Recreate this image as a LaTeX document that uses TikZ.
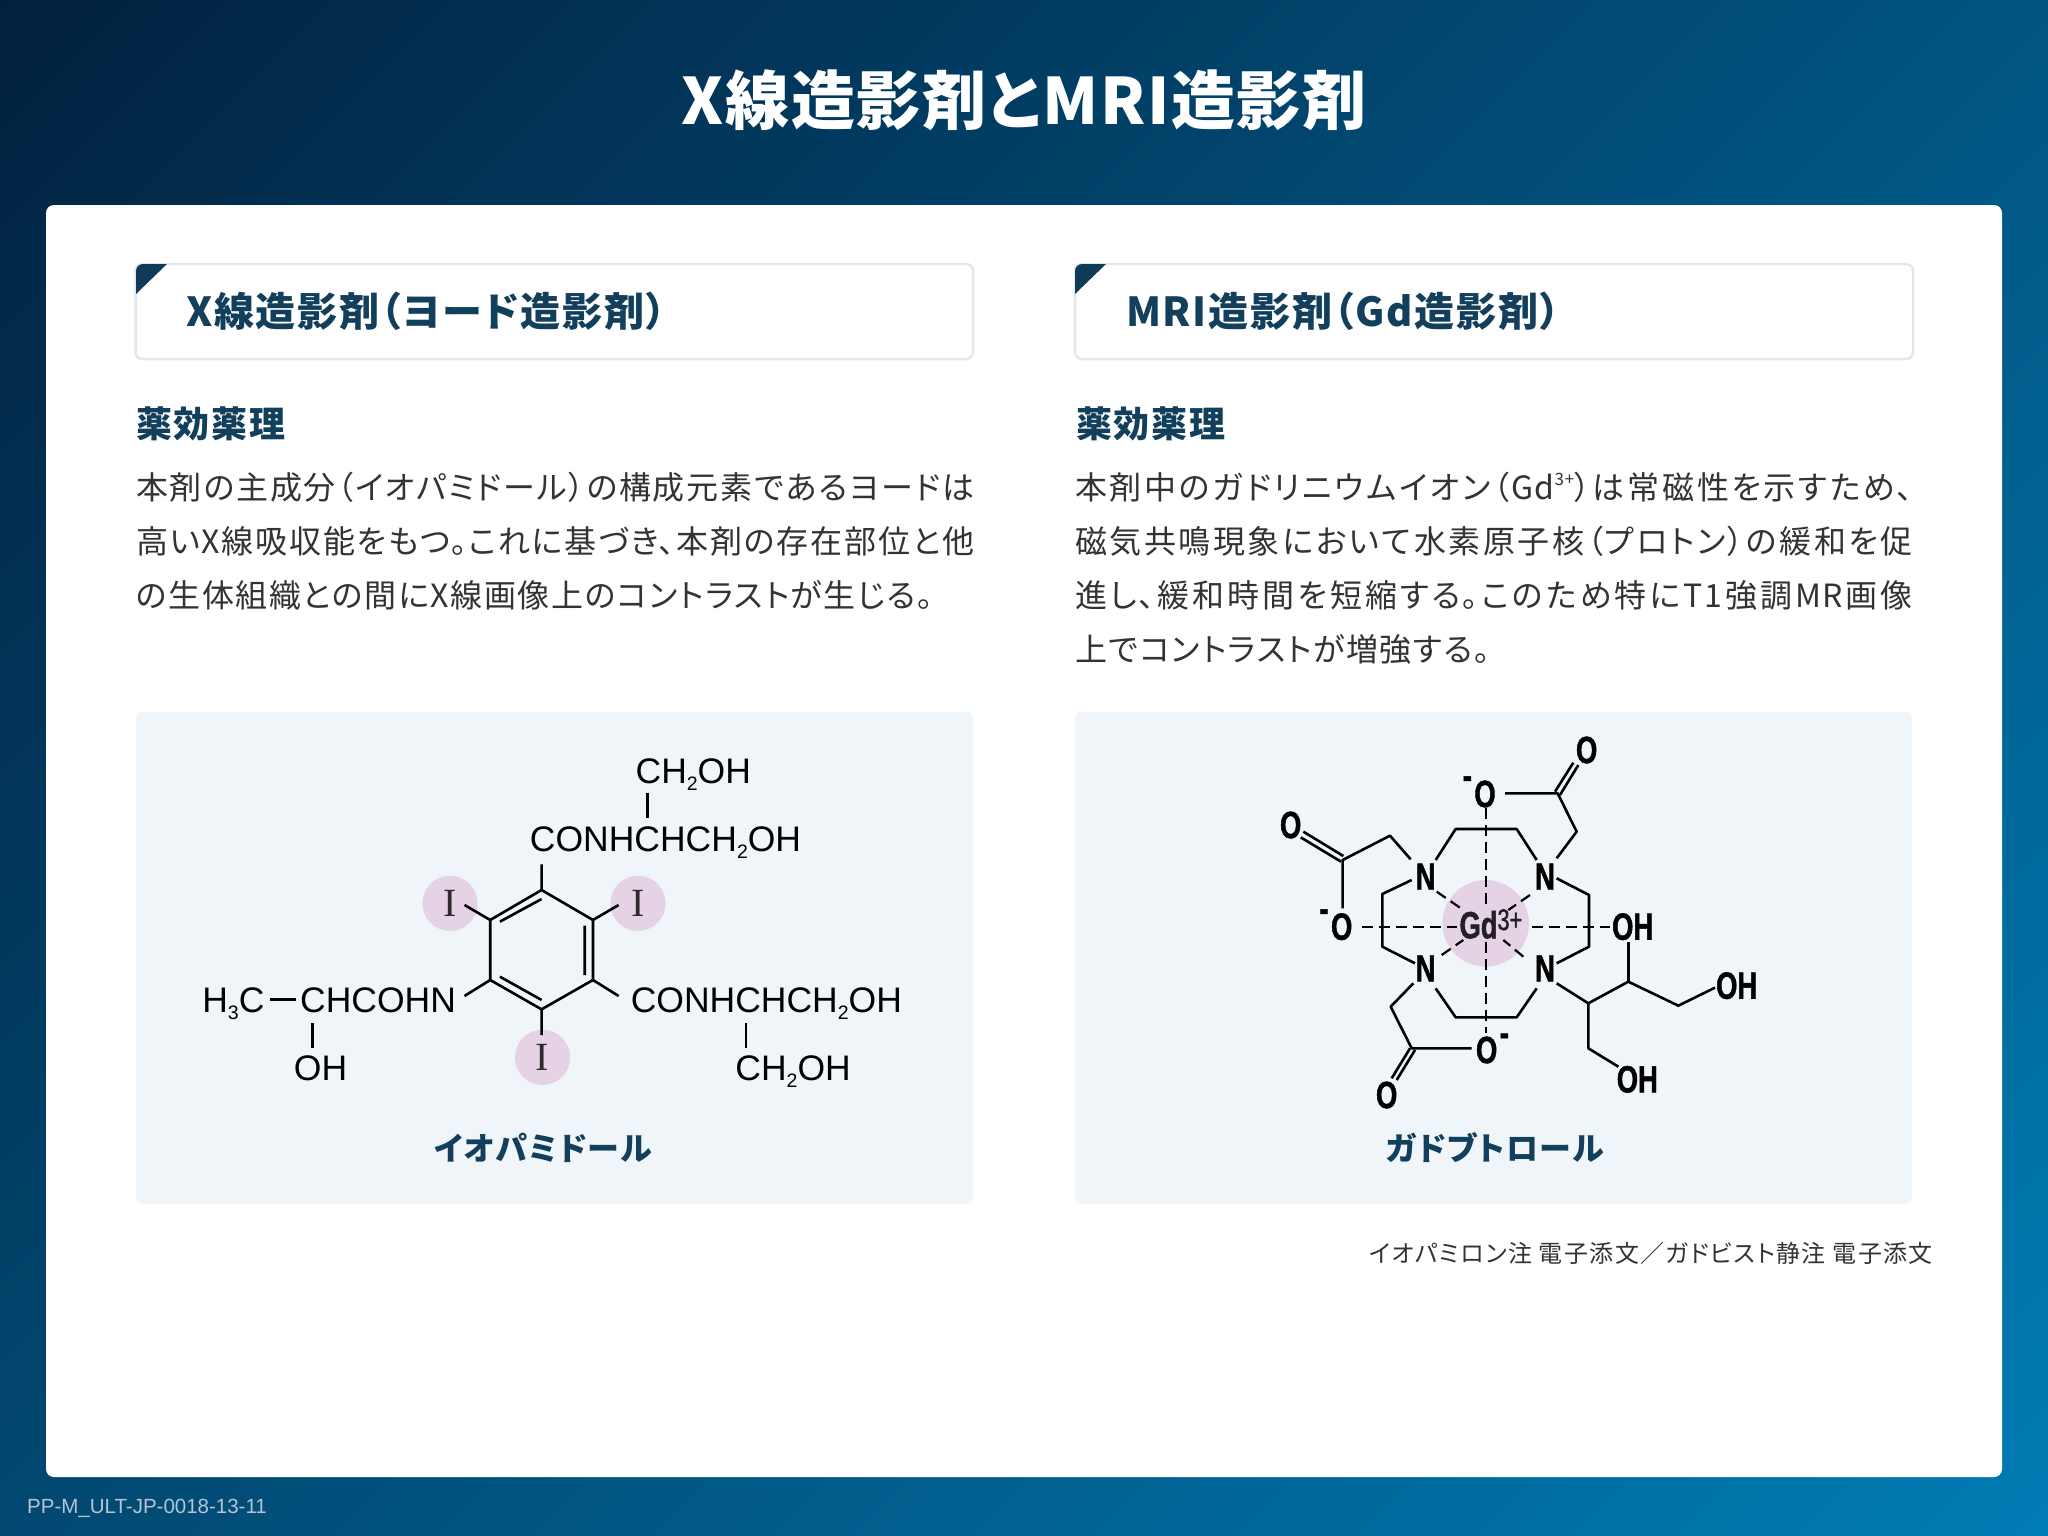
\documentclass[tikz,border=0pt]{standalone}
\usepackage{fontspec}
\setmainfont[RawFeature={+palt},LetterSpace=5]{Noto Sans CJK JP}
\newfontfamily\ttlf[RawFeature={+palt},LetterSpace=2.4]{Noto Sans CJK JP}
\newfontfamily\hdsf[RawFeature={+palt},LetterSpace=4.4]{Noto Sans CJK JP}
\newfontfamily\sbsf[RawFeature={+palt},LetterSpace=5.4]{Noto Sans CJK JP}
\newfontfamily\srcf[RawFeature={+palt},LetterSpace=5.7]{Noto Sans CJK JP}
\newfontfamily\latn{Liberation Sans}
\newfontfamily\ser{Liberation Serif}
\newfontfamily\chemb[FakeStretch=0.72,FakeBold=1.2]{Liberation Sans}
\definecolor{bgA}{HTML}{02213F}
\definecolor{bgB}{HTML}{007CB4}
\definecolor{navy}{HTML}{123F5C}
\definecolor{panel}{HTML}{F0F5FA}
\definecolor{pinkc}{HTML}{E5D2E5}
\definecolor{bodyc}{HTML}{333333}
\definecolor{edgec}{HTML}{E3E8EC}
\definecolor{footc}{HTML}{B4C4D2}
\newcommand\fs[1]{\fontsize{#1pt}{#1pt}\selectfont}
\newcommand\jline[1]{\parbox[t]{838pt}{\XeTeXlinebreaklocale "ja"\XeTeXlinebreakskip=0pt plus 6pt minus 1.5pt\noindent\parfillskip=0pt\relax #1}}
\newcommand\subn[1]{\raisebox{-.2em}{\fs{19.5}#1}}
\newcommand\supg[1]{\raisebox{.42em}{\fs{17}#1}}
\newcommand\supc[1]{\raisebox{8.3pt}{\fs{30}\mdseries #1}}
\tikzset{
  txt/.style={inner sep=0pt,outer sep=0pt,anchor=base west},
  card/.style={fill=white,rounded corners=8pt},
  headbox/.style={fill=white,draw=edgec,line width=2.5pt,rounded corners=7pt},
  panelbox/.style={fill=panel,rounded corners=6pt},
  corner/.style={fill=navy!85!bgA},
  headt/.style={txt,text=navy,font=\hdsf\fs{40}\bfseries},
  subt/.style={txt,text=navy,font=\sbsf\fs{36}\bfseries},
  bodyt/.style={txt,text=bodyc,font=\fs{32}},
  capt/.style={inner sep=0pt,anchor=base,text=navy,font=\hdsf\fs{32}\bfseries},
  bond/.style={line width=2.6pt,black},
  coord/.style={line width=2.2pt,dash pattern=on 11pt off 6pt,black},
  atom/.style={inner sep=0pt,outer sep=0pt,anchor=base west,text=black,font=\latn\fs{35.5}},
  iod/.style={inner sep=0pt,text=black!80!pinkc,font=\ser\fs{40}},
  atm/.style={inner sep=0pt,text=black,font=\chemb\fs{38}\bfseries},
  halo/.style={fill=pinkc},
}
\begin{document}
\begin{tikzpicture}[x=1pt,y=-1pt]
\useasboundingbox (0,0) rectangle (2048,1536);
\begin{scope}
\clip (0,0) rectangle (2048,1536);
\begin{scope}[transform canvas={rotate around={-45:(1024,768)}}]
\shade[left color=bgA,right color=bgB] (1024-1267,768-1600) rectangle (1024+1267,768+1600);
\end{scope}
\end{scope}
\node[inner sep=0pt,anchor=base,text=white,font=\ttlf\fs{64}\bfseries] (title) at (1024,125) {X線造影剤とMRI造影剤};
\fill[card] (46,205) rectangle (2002,1477);
\node[inner sep=0pt,anchor=base west,text=footc,font=\latn\fs{20.5}] (code) at (27,1513) {PP-M\_ULT-JP-0018-13-11};

% headers
\draw[headbox] (135.5,264) rectangle (973,359);
\draw[headbox] (1075,264) rectangle (1913,359);
\fill[corner] (136,271) arc (180:270:7) -- (167,264) -- (136,294) -- cycle;
\fill[corner] (1075,271) arc (180:270:7) -- (1106,264) -- (1075,294) -- cycle;
\node[headt] (h1) at (186,326) {X線造影剤（ヨード造影剤）};
\node[headt] (h2) at (1126,326) {MRI造影剤（Gd造影剤）};
\node[subt] (s1) at (136,437) {薬効薬理};
\node[subt] (s2) at (1076,437) {薬効薬理};
% body
\node[bodyt] (l1) at (136,499) {\jline{本剤の主成分（イオパミドール）の構成元素であるヨードは}};
\node[bodyt] (l2) at (136,553) {\jline{高いX線吸収能をもつ。これに基づき、本剤の存在部位と他}};
\node[bodyt] (l3) at (136,607) {の生体組織との間にX線画像上のコントラストが生じる。};
\node[bodyt] (r1) at (1075,499) {\jline{本剤中のガドリニウムイオン（Gd\supg{3+}）は常磁性を示すため、}};
\node[bodyt] (r2) at (1075,553) {\jline{磁気共鳴現象において水素原子核（プロトン）の緩和を促}};
\node[bodyt] (r3) at (1075,607) {\jline{進し、緩和時間を短縮する。このため特にT1強調MR画像}};
\node[bodyt] (r4) at (1075,661) {上でコントラストが増強する。};
% panels
\fill[panelbox] (136,712) rectangle (973,1204);
\fill[panelbox] (1075,712) rectangle (1912,1204);
\node[capt] (c1) at (543,1160) {イオパミドール};
\node[capt] (c2) at (1495,1160) {ガドブトロール};
\node[inner sep=0pt,anchor=base east,text=bodyc,font=\srcf\fs{24}] (src) at (1933,1262) {イオパミロン注 電子添文／ガドビスト静注 電子添文};

% iopamidol, in crop coordinates
\begin{scope}[shift={(180,720)},x=0.4847pt,y=-0.33333pt]
\fill[halo] (557,550) ellipse [x radius=57,y radius=83];
\fill[halo] (945,550) ellipse [x radius=57,y radius=83];
\fill[halo] (748,1012) ellipse [x radius=57,y radius=83];
\node[iod] (i1) at (557,550) {I};
\node[iod] (i2) at (945,550) {I};
\node[iod] (i3) at (748,1012) {I};
\draw[bond,line join=miter] (746,510)--(852,600)--(852,780)--(746,868)--(640,780)--(640,600)--cycle;
\draw[bond] (660,605)--(746,537) (835,617)--(835,765) (660,770)--(746,840);
\draw[bond] (746,433)--(746,510) (587,555)--(640,600) (905,555)--(852,600) (587,828)--(640,780) (905,828)--(852,780) (746,868)--(746,945);
\draw[bond] (964,218)--(964,295) (185,838)--(240,838) (273,910)--(273,985) (1168,910)--(1168,985);
\node[atom] (a1) at (940,190) {CH\subn{2}OH};
\node[atom] (a2) at (722,393) {CONHCHCH\subn{2}OH};
\node[atom] (a3) at (46,878) {H\subn{3}C};
\node[atom] (a4) at (248,878) {CHCOHN};
\node[atom] (a5) at (930,878) {CONHCHCH\subn{2}OH};
\node[atom] (a6) at (235,1082) {OH};
\node[atom] (a7) at (1146,1082) {CH\subn{2}OH};
\end{scope}

% gadobutrol, in crop coordinates
\begin{scope}[shift={(1260,720)},x=0.33333pt,y=-0.33333pt]
\fill[halo] (677,610) circle [radius=130];
\draw[coord] (677,265)--(677,570) (677,665)--(677,940) (305,620)--(590,620) (815,620)--(1050,620);
\draw[coord] (530,515)--(610,570) (810,525)--(745,570) (545,705)--(610,660) (790,710)--(730,660);
\draw[bond,line join=round] (890,415)--(950,335)--(893,220)--(735,220);
\draw[bond] (885,215)--(940,128) (900,225)--(955,135);
\draw[bond,line join=round] (527,420)--(587,327)--(770,327)--(830,420);
\draw[bond,line join=round] (452,418)--(390,347)--(248,420)--(248,565);
\draw[bond] (122,352)--(243,425) (130,335)--(250,408);
\draw[bond,line join=round] (455,480)--(367,522)--(367,680)--(465,730);
\draw[bond,line join=round] (890,475)--(987,525)--(987,680)--(890,730);
\draw[bond,line join=round] (527,805)--(587,892)--(770,892)--(830,805);
\draw[bond,line join=round] (460,790)--(392,860)--(455,985)--(635,985);
\draw[bond] (450,985)--(395,1075) (465,990)--(410,1080);
\draw[bond,line join=round] (890,790)--(985,850)--(1105,785)--(1255,857)--(1365,803);
\draw[bond,line join=round] (985,850)--(985,985)--(1075,1040);
\draw[bond] (1105,785)--(1105,665);
\node[atm] (n1) at (497,470) {N};
\node[atm] (n2) at (855,470) {N};
\node[atm] (n3) at (497,745) {N};
\node[atm] (n4) at (855,745) {N};
\node[atm] (o1) at (980,90) {O};
\node[atm] (o2) at (675,222) {O};
\node[atm] (o3) at (92,315) {O};
\node[atm] (o4) at (245,620) {O};
\node[atm] (o5) at (680,990) {O};
\node[atm] (o6) at (380,1125) {O};
\node[atm] (m2) at (622,187) {-};
\node[atm] (m4) at (192,586) {-};
\node[atm] (m5) at (733,959) {-};
\node[atm] (oh1) at (1118,620) {OH};
\node[atm] (oh2) at (1430,797) {OH};
\node[atm] (oh3) at (1132,1078) {OH};
\node[atm,anchor=base west,text=black!85!pinkc] (gd) at (598,655) {Gd\supc{3+}};
\end{scope}
\end{tikzpicture}
\end{document}
